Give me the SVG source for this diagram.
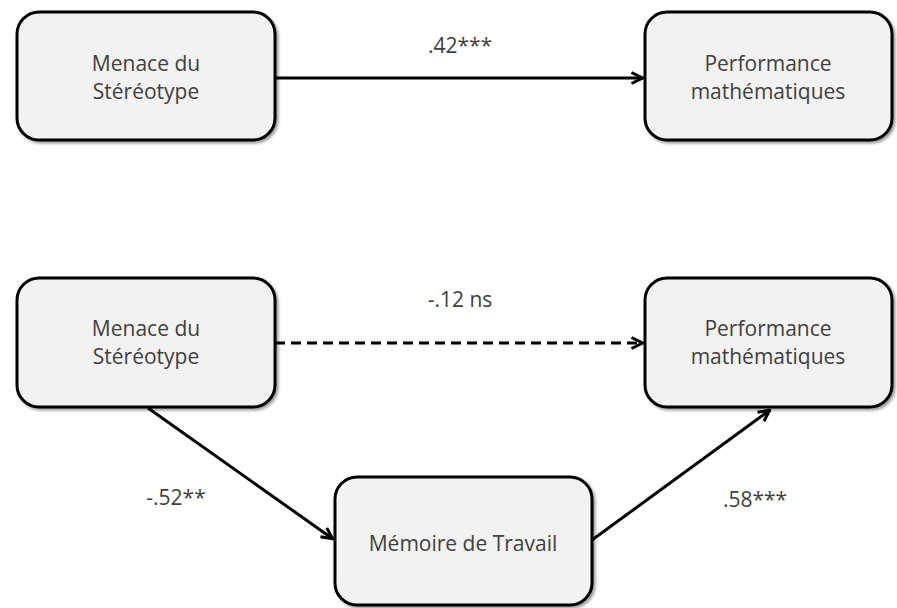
<svg xmlns="http://www.w3.org/2000/svg" width="897" height="608" viewBox="0 0 897 608">
<style>
.box{fill:#f2f2f2;stroke:#000;stroke-width:3;filter:url(#sh)}
.t{font-family:"Open Sans","Liberation Sans",sans-serif;font-size:21px;fill:#404040;text-anchor:middle}
.c{stroke:#000;stroke-width:3;fill:none;marker-end:url(#ah)}
.lbl{font-family:"Open Sans","Liberation Sans",sans-serif;font-size:21px;fill:#404040;text-anchor:middle}
</style>
<defs>
<filter id="sh" x="-10%" y="-10%" width="125%" height="125%">
<feGaussianBlur in="SourceAlpha" stdDeviation="1.5"/>
<feOffset dx="1.5" dy="2" result="b"/>
<feComponentTransfer><feFuncA type="linear" slope="0.4"/></feComponentTransfer>
<feMerge><feMergeNode/><feMergeNode in="SourceGraphic"/></feMerge>
</filter>
<marker id="ah" viewBox="0 0 14 14" refX="13" refY="7" markerWidth="14" markerHeight="14" markerUnits="userSpaceOnUse" orient="auto">
<path d="M1.5,1.5 L12.5,7 L1.5,12.5" fill="none" stroke="#000" stroke-width="3"/>
</marker>
</defs>
<g id="connectors">
<line class="c" x1="275" y1="78" x2="643" y2="78"/>
<line class="c" x1="275" y1="343" x2="643" y2="343" stroke-dasharray="10,6"/>
<line class="c" x1="148" y1="408" x2="333" y2="539"/>
<line class="c" x1="592" y1="540" x2="770" y2="410"/>
<text class="lbl" x="460" y="53">.42***</text>
<text class="lbl" x="460" y="307">-.12 ns</text>
<text class="lbl" x="176" y="505">-.52**</text>
<text class="lbl" x="755" y="507">.58***</text>
</g>
<g id="n1"><rect class="box" x="17" y="12" width="258" height="128" rx="22"/>
<text class="t" x="146" y="71">Menace du</text><text class="t" x="146" y="99">Stéréotype</text></g>
<g id="n2"><rect class="box" x="645" y="12" width="247" height="128" rx="22"/>
<text class="t" x="768" y="71">Performance</text><text class="t" x="768" y="99">mathématiques</text></g>
<g id="n3"><rect class="box" x="17" y="278" width="258" height="129" rx="22"/>
<text class="t" x="146" y="336">Menace du</text><text class="t" x="146" y="364">Stéréotype</text></g>
<g id="n4"><rect class="box" x="645" y="278" width="247" height="129" rx="22"/>
<text class="t" x="768" y="336">Performance</text><text class="t" x="768" y="364">mathématiques</text></g>
<g id="n5"><rect class="box" x="335" y="477" width="257" height="128" rx="22"/>
<text class="t" x="463" y="551">Mémoire de Travail</text></g>
</svg>
